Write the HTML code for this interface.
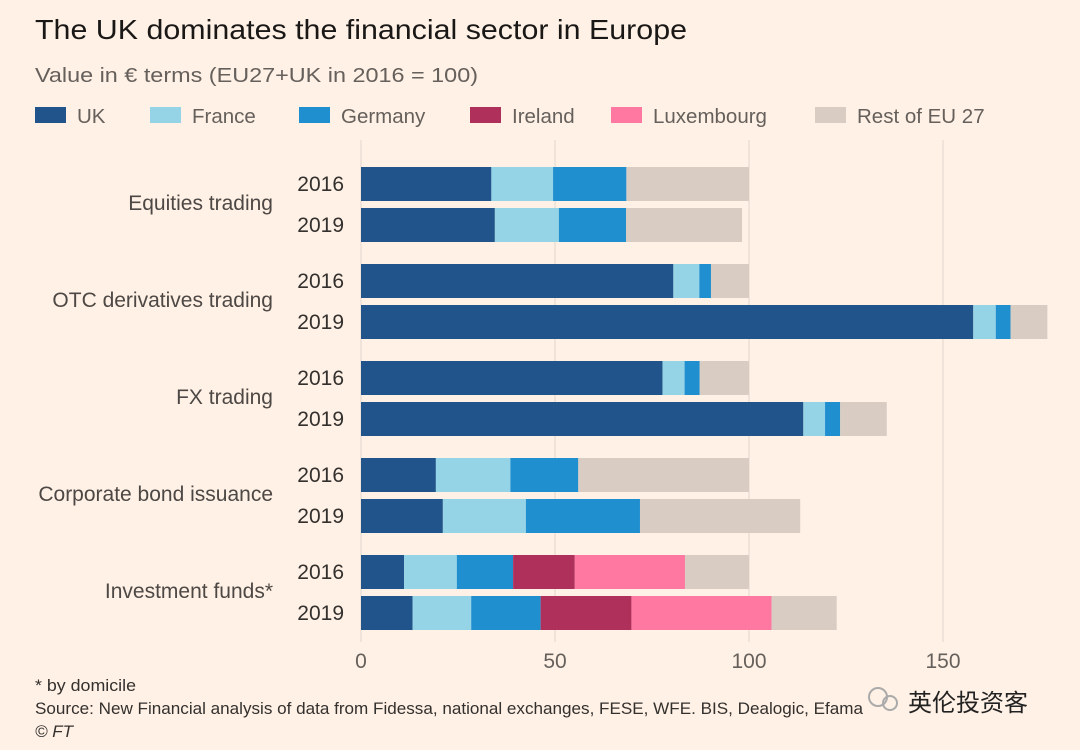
<!DOCTYPE html>
<html><head><meta charset="utf-8"><style>
html,body{margin:0;padding:0;background:#fff1e5;}
svg{display:block;font-family:"Liberation Sans","Noto Sans CJK SC",sans-serif;}
</style></head><body>
<svg id="chart" width="1080" height="750" viewBox="0 0 1080 750">
<rect width="1080" height="750" fill="#fff1e5"/>
<text x="35" y="39" font-size="28" fill="#1a1817" textLength="652" lengthAdjust="spacingAndGlyphs">The UK dominates the financial sector in Europe</text>
<text x="35" y="82" font-size="20" fill="#66605c" textLength="443" lengthAdjust="spacingAndGlyphs">Value in € terms (EU27+UK in 2016 = 100)</text>
<g id="legend"></g>
<g id="grid"></g>
<g id="bars"></g>
<g id="labels"></g>
<g id="xaxis"></g>
<text x="35" y="691" font-size="17" fill="#33302e" textLength="101" lengthAdjust="spacingAndGlyphs">* by domicile</text>
<text x="35" y="714" font-size="17" fill="#33302e" textLength="828" lengthAdjust="spacingAndGlyphs">Source: New Financial analysis of data from Fidessa, national exchanges, FESE, WFE. BIS, Dealogic, Efama</text>
<text x="35" y="737" font-size="17" fill="#33302e" font-style="italic">© FT</text>
<g>
<circle cx="878" cy="697" r="9" fill="none" stroke="#aaa" stroke-width="2"/>
<circle cx="890" cy="703" r="7" fill="none" stroke="#aaa" stroke-width="2"/>
<text x="908" y="711" font-size="24" fill="#222">英伦投资客</text>
</g>
</svg>
<script>
const seriesNames=["UK","France","Germany","Ireland","Luxembourg","Rest of EU 27"];
const seriesColors=["#20548a","#95d3e7","#1f8fd0","#b0305c","#ff78a2","#d8ccc3"];
const categories=["Equities trading","OTC derivatives trading","FX trading","Corporate bond issuance","Investment funds*"];
const years=["2016","2019"];
const ukVals=[33.6,34.5, 80.5,157.8, 77.7,114.0, 19.3,21.1, 11.1,13.3];
const franceVals=[15.9,16.5, 6.7,5.8, 5.7,5.6, 19.2,21.4, 13.6,15.1];
const germanyVals=[18.9,17.3, 3.0,3.8, 3.9,3.9, 17.5,29.4, 14.5,17.9];
const irelandVals=[0,0, 0,0, 0,0, 0,0, 15.9,23.4];
const luxVals=[0,0, 0,0, 0,0, 0,0, 28.4,36.1];
const restVals=[31.6,29.9, 9.8,9.5, 12.7,12.0, 44.0,41.3, 16.5,16.8];
const xTicks=[0,50,100,150];
const NS="http://www.w3.org/2000/svg";
const x0=361, pxPer=3.88;
function xs(v){return x0+v*pxPer;}
function mk(tag,attrs,parent){const e=document.createElementNS(NS,tag);for(const k in attrs)e.setAttribute(k,attrs[k]);parent.appendChild(e);return e;}
const series=[ukVals,franceVals,germanyVals,irelandVals,luxVals,restVals];
const legX=[35,150,299,470,611,815];
const lg=document.getElementById('legend');
seriesNames.forEach((n,i)=>{
  const r=mk('rect',{x:legX[i],y:107,width:31,height:16,fill:seriesColors[i]},lg);
  
  
  const t=mk('text',{x:legX[i]+42,y:123,'font-size':20.5,fill:'#66605c'},lg);
  t.textContent=n;
  
  
});
const gg=document.getElementById('grid');
xTicks.forEach(v=>{
  const l=mk('line',{x1:xs(v),x2:xs(v),y1:140,y2:642,stroke:'#ebe0d6','stroke-width':1.5},gg);
  
  
});
const bg=document.getElementById('bars'), lb=document.getElementById('labels');
const barH=34, groupStep=97, rowStep=41, top0=167;
categories.forEach((c,ci)=>{
  years.forEach((yr,yi)=>{
    const idx=ci*2+yi;
    const y=top0+ci*groupStep+yi*rowStep;
    let acc=0;
    series.forEach((s,si)=>{
      const v=s[idx]; if(!v) return;
      const r=mk('rect',{x:xs(acc),y:y,width:v*pxPer,height:barH,fill:seriesColors[si]},bg);
      
      
      acc+=v;
    });
    const t=mk('text',{x:344,y:y+24,'font-size':21,fill:'#33302e','text-anchor':'end'},lb);
    t.textContent=yr;
    
    
  });
  const cy=top0+ci*groupStep+37+6;
  const t=mk('text',{x:273,y:cy,'font-size':21,fill:'#4d4845','text-anchor':'end'},lb);
  t.textContent=c;
  
  
});
const xa=document.getElementById('xaxis');
xTicks.forEach(v=>{
  const t=mk('text',{x:xs(v),y:668,'font-size':21,fill:'#66605c','text-anchor':'middle'},xa);
  t.textContent=v;
  
  
});
</script>
</body></html>
